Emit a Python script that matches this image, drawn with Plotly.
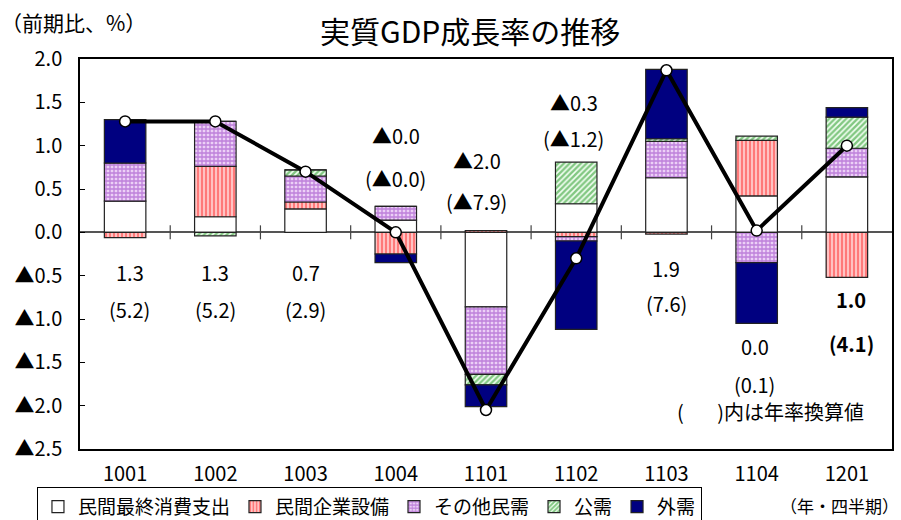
import plotly.graph_objects as go

# ---------------- data ----------------
quarters = ["1001", "1002", "1003", "1004", "1101", "1102", "1103", "1104", "1201"]
consumption = [0.36, 0.18, 0.27, 0.14, -0.86, 0.33, 0.63, 0.42, 0.64]     # 民間最終消費支出
investment  = [-0.06, 0.58, 0.08, -0.25, 0.02, -0.05, -0.02, 0.64, -0.52]  # 民間企業設備
other_priv  = [0.44, 0.52, 0.30, 0.16, -0.78, -0.05, 0.42, -0.35, 0.33]    # その他民需
public      = [0.00, -0.04, 0.07, 0.00, -0.12, 0.48, 0.03, 0.05, 0.36]     # 公需
external    = [0.50, 0.00, 0.00, -0.10, -0.25, -1.02, 0.80, -0.70, 0.11]   # 外需
gdp_growth  = [1.28, 1.28, 0.70, 0.00, -2.05, -0.30, 1.87, 0.02, 1.00]     # 実質GDP成長率
qoq_text    = ["1.3", "1.3", "0.7", "▲0.0", "▲2.0", "▲0.3", "1.9", "0.0", "1.0"]
annual_text = ["(5.2)", "(5.2)", "(2.9)", "(▲0.0)", "(▲7.9)", "(▲1.2)", "(7.6)", "(0.1)", "(4.1)"]
y_ticks = [2.0, 1.5, 1.0, 0.5, 0.0, -0.5, -1.0, -1.5, -2.0, -2.5]

# ---------------- styling ----------------
FONT = "Noto Sans CJK JP"
xs = list(range(len(quarters)))
boundaries = [i + 0.5 for i in xs[:-1]]
outline = dict(color="#222222", width=1.2)

series = [
    ("民間最終消費支出", consumption, dict(color="white", line=outline)),
    ("民間企業設備", investment, dict(color="#ff2020", line=outline,
        pattern=dict(shape="|", fgcolor="#ff0000", bgcolor="#fff4f4", size=4, solidity=0.7))),
    ("その他民需", other_priv, dict(color="#9933cc", line=outline,
        pattern=dict(shape="+", fgcolor="#9030c0", bgcolor="#ecd0f6", size=4, solidity=0.55))),
    ("公需", public, dict(color="#209020", line=outline,
        pattern=dict(shape="/", fgcolor="#109010", bgcolor="#f4fff4", size=4, solidity=0.6))),
    ("外需", external, dict(color="#000080", line=outline)),
]

fig = go.Figure()
for name, vals, marker in series:
    fig.add_trace(go.Bar(x=xs, y=vals, name=name, marker=marker, width=0.46))

# small tick marks on the zero line between categories
fig.add_trace(go.Scatter(x=boundaries, y=[0] * len(boundaries), mode="markers",
                         marker=dict(symbol="line-ns", size=10,
                                     line=dict(color="#444444", width=1.2)),
                         showlegend=False, hoverinfo="skip"))

fig.add_trace(go.Scatter(
    x=xs, y=gdp_growth, mode="lines+markers", showlegend=False,
    line=dict(color="black", width=4),
    marker=dict(color="white", size=11, line=dict(color="black", width=1.5)),
))

# value labels (quarter-on-quarter and annualised)
top_pos = [-0.46, -0.46, -0.46, 1.12, 0.83, 1.50, -0.42, -1.32, -0.78]
gap = [0.43, 0.43, 0.43, 0.50, 0.47, 0.42, 0.40, 0.43, 0.50]
x_off = [0.05, 0.0, 0.0, 0.0, -0.1, -0.03, 0.0, -0.02, 0.05]
for i, q in enumerate(quarters):
    bold = (i == len(quarters) - 1)
    t1 = f"<b>{qoq_text[i]}</b>" if bold else qoq_text[i]
    t2 = f"<b>{annual_text[i]}</b>" if bold else annual_text[i]
    fs = 20
    fig.add_annotation(x=i + x_off[i], y=top_pos[i], text=t1, showarrow=False,
                       xanchor="center", yanchor="middle",
                       font=dict(family=FONT, size=fs, color="black"))
    fig.add_annotation(x=i + x_off[i], y=top_pos[i] - gap[i], text=t2, showarrow=False,
                       xanchor="center", yanchor="middle",
                       font=dict(family=FONT, size=fs, color="black"))

fig.add_annotation(xref="paper", yref="paper", x=0.85, y=0.095, text="(　   )内は年率換算値",
                   xanchor="center", yanchor="middle",
                   showarrow=False, font=dict(family=FONT, size=20, color="black"))
fig.add_annotation(xref="paper", yref="paper", x=-0.1, y=1.095, xanchor="left",
                   yanchor="middle", text="（前期比、%）", showarrow=False,
                   font=dict(family=FONT, size=21, color="black"))
fig.add_annotation(xref="paper", yref="paper", x=0.48, y=1.074, text="実質GDP成長率の推移",
                   xanchor="center", yanchor="middle",
                   showarrow=False, font=dict(family=FONT, size=30, color="black"))
fig.add_annotation(xref="paper", yref="paper", x=0.935, y=-0.146, text="（年・四半期）",
                   xanchor="center", yanchor="middle",
                   showarrow=False, font=dict(family=FONT, size=17, color="black"))

tick_text = [("▲" + f"{abs(v):.1f}") if v < 0 else f"{v:.1f}" for v in y_ticks]

fig.update_layout(
    width=901, height=520,
    margin=dict(l=80, r=9, t=59, b=71, autoexpand=False),
    barmode="relative",
    paper_bgcolor="white", plot_bgcolor="white",
    font=dict(family=FONT, color="black"),
    showlegend=True,
    legend=dict(orientation="h", xref="paper", yref="paper", x=-0.053, y=-0.097,
                xanchor="left", yanchor="top", bordercolor="black", borderwidth=1,
                font=dict(family=FONT, size=19), itemwidth=30, tracegroupgap=0,
                traceorder="normal", bgcolor="white"),
    xaxis=dict(range=[-0.5, len(quarters) - 0.5], tickvals=xs, ticktext=quarters,
               ticks="", showline=True, mirror=True, linecolor="black", linewidth=1.5,
               showgrid=False, zeroline=False, ticklabelstandoff=6,
               tickfont=dict(family=FONT, size=20)),
    yaxis=dict(range=[-2.5, 2.0], tickvals=y_ticks, ticktext=tick_text,
               ticks="inside", ticklen=5, tickcolor="black",
               showline=True, mirror=True, linecolor="black", linewidth=1.5,
               showgrid=False, zeroline=True, zerolinecolor="#555555", zerolinewidth=1.5,
               ticklabelstandoff=12, tickfont=dict(family=FONT, size=20)),
)

fig.write_html("out.html")
